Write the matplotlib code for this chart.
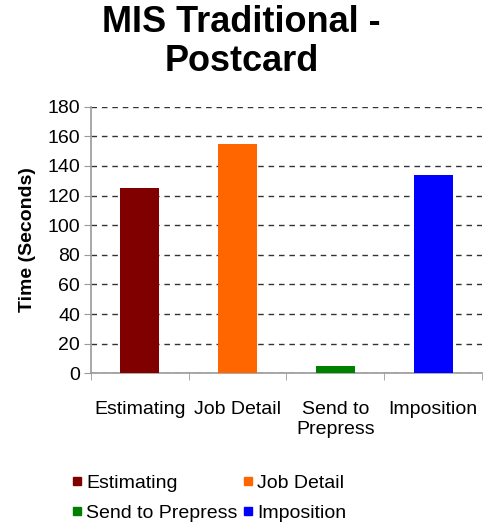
"""
MIS Traditional - Postcard bar chart.
"""

import matplotlib
matplotlib.use('Agg')
import matplotlib.pyplot as plt
from matplotlib.lines import Line2D

categories = ['Estimating', 'Job Detail', 'Send to\nPrepress', 'Imposition']
legend_names = ['Estimating', 'Job Detail', 'Send to Prepress', 'Imposition']
times = [125, 155, 5, 134]
colors = ['#800000', '#ff6600', '#008000', '#0000ff']
y_ticks = [0, 20, 40, 60, 80, 100, 120, 140, 160, 180]

plt.rcParams['font.family'] = ['Liberation Sans', 'DejaVu Sans']

fig = plt.figure(figsize=(4.83, 5.22), dpi=100)
ax = fig.add_axes([0.1884, 0.2849, 0.8095, 0.5107])

x = list(range(len(categories)))
ax.bar(x, times, width=0.4, color=colors, zorder=3)

ax.set_xlim(-0.5, len(categories) - 0.5)
ax.set_ylim(0, 180)
ax.set_yticks(y_ticks)
ax.yaxis.grid(True, linestyle=(0, (4, 3.5)), color='#333333', linewidth=1.0, zorder=0)
ax.set_axisbelow(True)

ax.set_xticks(x)
ax.set_xticklabels(categories, fontsize=14, linespacing=1.2)
ax.set_xticks([i - 0.5 for i in range(len(categories) + 1)], minor=True)
ax.tick_params(axis='x', which='major', length=0, pad=20)
ax.tick_params(axis='x', which='minor', length=5, color='#999999', direction='out')
ax.tick_params(axis='y', length=5, color='#999999', labelsize=14, pad=3)

for side in ['top', 'right']:
    ax.spines[side].set_visible(False)
for side in ['left', 'bottom']:
    ax.spines[side].set_color('#999999')
    ax.spines[side].set_linewidth(1.2)

ax.set_ylabel('Time (Seconds)', fontsize=14, fontweight='bold', labelpad=8)

fig.text(0.5, 0.99, 'MIS Traditional -\nPostcard', ha='center', va='top',
         fontsize=26, fontweight='bold', linespacing=1.15)

# legend: column-wise fill, so order is col1 then col2
order = [0, 2, 1, 3]
handles = [Line2D([], [], marker='s', linestyle='', markersize=6,
                  color=colors[i]) for i in order]
labels = [legend_names[i] for i in order]
fig.legend(handles, labels, ncol=2, loc='upper left', bbox_to_anchor=(0.13, 0.11),
           frameon=False, fontsize=14, handlelength=0.5, handletextpad=0.2,
           columnspacing=0.3, labelspacing=0.65, borderpad=0)

fig.savefig('out.png', dpi=100)
